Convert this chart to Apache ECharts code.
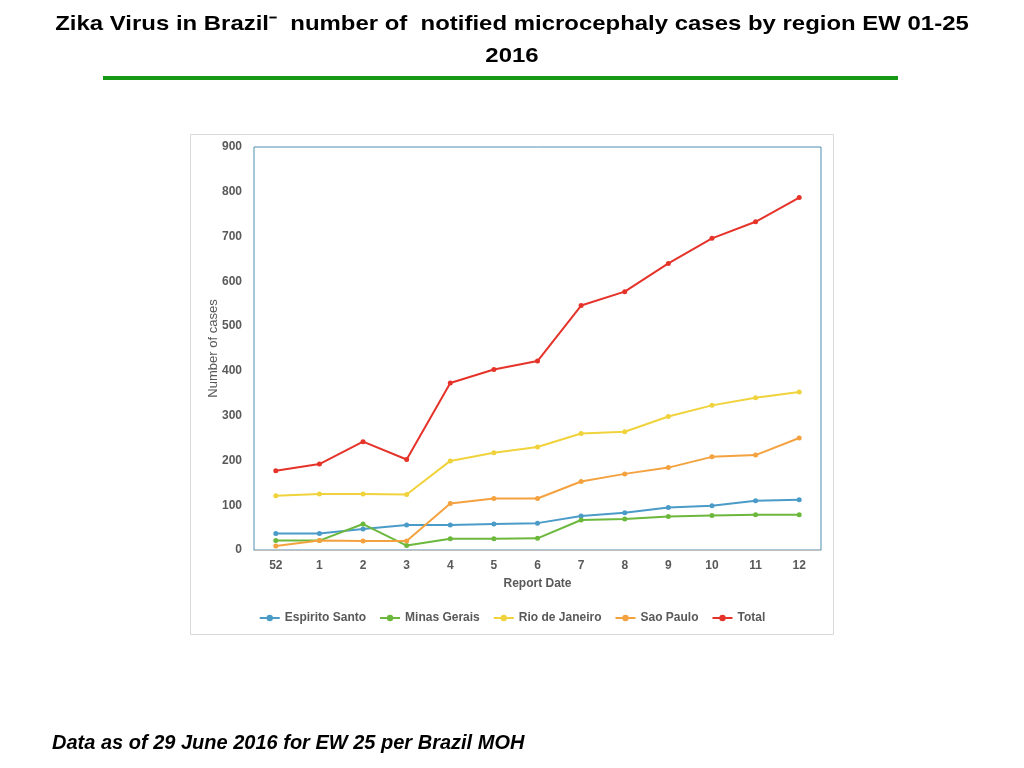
<!DOCTYPE html>
<html>
<head>
<meta charset="utf-8">
<title>Zika Virus in Brazil</title>
<script src="https://cdn.jsdelivr.net/npm/echarts@6/dist/echarts.min.js"></script>
<style>
    html, body { margin: 0; padding: 0; background: #fff; }
    #chart { width: 1024px; height: 768px; }
</style>
</head>
<body>
<div id="chart"></div>
<script>
'use strict';

// report dates (epidemiological weeks)
const reportDates = ['52', '1', '2', '3', '4', '5', '6', '7', '8', '9', '10', '11', '12'];

const espiritoSanto = [37, 37, 47, 56, 56, 58, 60, 76, 83, 95, 99, 110, 112];
const minasGerais = [21, 21, 58, 10, 25, 25, 26, 67, 69, 75, 77, 79, 79];
const rioDeJaneiro = [121, 125, 125, 124, 199, 217, 230, 260, 264, 298, 323, 340, 353];
const saoPaulo = [9, 21, 20, 20, 104, 115, 115, 153, 170, 184, 208, 212, 250];
const total = [177, 192, 242, 202, 373, 403, 422, 546, 577, 640, 696, 733, 787];

const seriesNames = ['Espirito Santo', 'Minas Gerais', 'Rio de Janeiro', 'Sao Paulo', 'Total'];
const seriesValues = [espiritoSanto, minasGerais, rioDeJaneiro, saoPaulo, total];
const seriesColors = ['#4b9bc9', '#6cb83c', '#f0d33c', '#f4a23f', '#e5332a'];

const titleLines = [
    'Zika Virus in Brazil\u207B  number of  notified microcephaly cases by region EW 01-25',
    '2016'
];
const footNote = 'Data as of 29 June 2016 for EW 25 per Brazil MOH';

const labelFont = 'Liberation Sans, Arial, Helvetica, sans-serif';

let chart = echarts.init(document.getElementById('chart'));

// the slide title is set a bit wider than the plain font
let titleStyle = {
    fontFamily: labelFont,
    fontSize: 21,
    fontWeight: 'bold',
    fill: '#000',
    align: 'center',
    verticalAlign: 'middle'
};

let option = {
    animation: false,
    graphic: [{
        type: 'text',
        x: 512,
        y: 24,
        scaleX: 1.14,
        style: Object.assign({ text: titleLines[0] }, titleStyle),
        silent: true
    }, {
        type: 'text',
        x: 512,
        y: 56,
        scaleX: 1.14,
        style: Object.assign({ text: titleLines[1] }, titleStyle),
        silent: true
    }, {
        type: 'rect',
        shape: { x: 103, y: 76, width: 795, height: 4 },
        style: { fill: '#169a16' },
        silent: true
    }, {
        type: 'rect',
        shape: { x: 190.5, y: 134.5, width: 643, height: 500 },
        style: { fill: 'none', stroke: '#d9d9d9', lineWidth: 1 },
        silent: true
    }, {
        type: 'text',
        x: 52,
        y: 743,
        style: {
            text: footNote,
            fontFamily: labelFont,
            fontSize: 20,
            fontWeight: 'bold',
            fontStyle: 'italic',
            fill: '#000',
            verticalAlign: 'middle'
        },
        silent: true
    }],
    legend: {
        data: seriesNames,
        left: 'center',
        top: 607,
        itemWidth: 20,
        itemHeight: 8,
        itemGap: 13,
        textStyle: {
            fontFamily: labelFont,
            fontSize: 12,
            fontWeight: 'bold',
            color: '#595959'
        }
    },
    grid: {
        left: 254,
        right: 203,
        top: 147,
        bottom: 218,
        show: true,
        borderColor: '#4f8fb3',
        borderWidth: 1
    },
    xAxis: {
        type: 'category',
        data: reportDates,
        boundaryGap: true,
        name: 'Report Date',
        nameLocation: 'middle',
        nameGap: 28,
        nameTextStyle: {
            fontFamily: labelFont,
            fontSize: 12,
            fontWeight: 'bold',
            color: '#595959'
        },
        axisTick: { show: false },
        axisLine: { lineStyle: { color: '#bfbfbf', width: 1 } },
        axisLabel: {
            margin: 10,
            fontFamily: labelFont,
            fontSize: 12,
            fontWeight: 'bold',
            color: '#595959'
        }
    },
    yAxis: {
        type: 'value',
        min: 0,
        max: 900,
        interval: 100,
        name: 'Number of cases',
        nameLocation: 'middle',
        nameGap: 34,
        nameMoveOverlap: false,
        nameTextStyle: {
            fontFamily: labelFont,
            fontSize: 13,
            color: '#595959'
        },
        splitLine: { show: false },
        axisLine: { show: false },
        axisTick: { show: false },
        axisLabel: {
            margin: 12,
            fontFamily: labelFont,
            fontSize: 12,
            fontWeight: 'bold',
            color: '#595959'
        }
    },
    series: seriesNames.map(function (name, i) {
        return {
            name: name,
            type: 'line',
            data: seriesValues[i],
            symbol: 'circle',
            symbolSize: 5,
            itemStyle: { color: seriesColors[i] },
            lineStyle: { color: seriesColors[i], width: 2 }
        };
    })
};

chart.setOption(option);
</script>
</body>
</html>
